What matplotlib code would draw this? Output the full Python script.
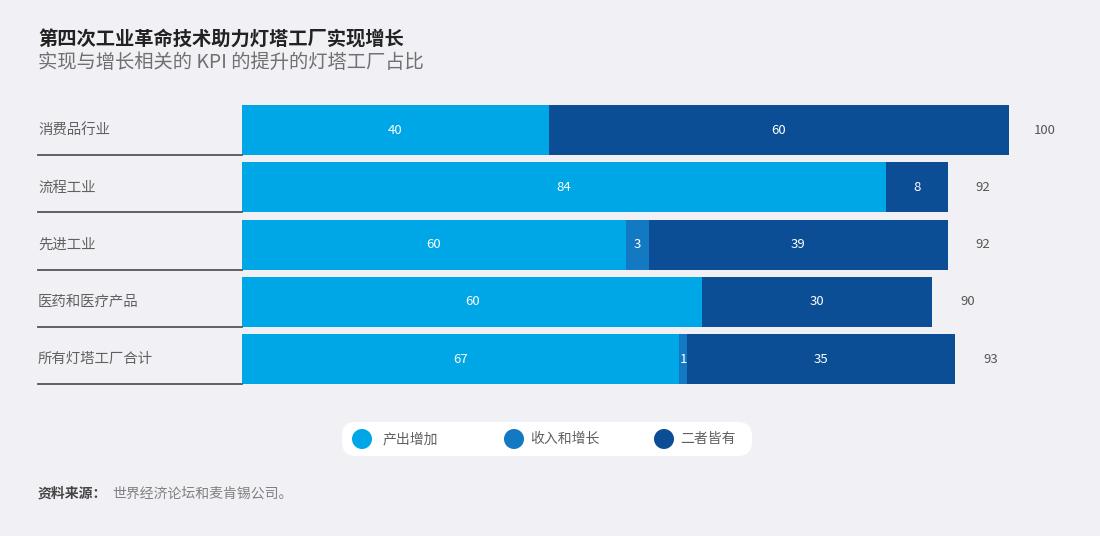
import matplotlib.pyplot as plt
from matplotlib.patches import FancyBboxPatch, Circle

plt.rcParams['font.family'] = ['Noto Sans CJK SC', 'DejaVu Sans']

categories = ['消费品行业', '流程工业', '先进工业', '医药和医疗产品', '所有灯塔工厂合计']
# bar lengths as drawn in the picture
output_up = [40, 84, 50, 60, 57]
revenue_up = [0, 0, 3, 0, 1]
both = [60, 8, 39, 30, 35]
totals = [100, 92, 92, 90, 93]
# numbers printed inside the bars
output_text = ['40', '84', '60', '60', '67']
legend_names = ['产出增加', '收入和增长', '二者皆有']

bg = '#f1f0f4'
c_light = '#00a7e7'
c_mid = '#1479c3'
c_dark = '#0b4e95'
colors = [c_light, c_mid, c_dark]

W, H = 1100, 536
fig = plt.figure(figsize=(11, 5.36), dpi=100, facecolor=bg)

# overlay axes in pixel coordinates for text, legend and source
pax = fig.add_axes([0, 0, 1, 1])
pax.set_xlim(0, W)
pax.set_ylim(H, 0)
pax.axis('off')

# bar axes: x 0..100 -> px 242..1009, rows 57.3 px apart
unit = 57.3
top_px = 130 - unit / 2
ax = fig.add_axes([242 / W, 1 - (top_px + 5 * unit) / H, 767 / W, 5 * unit / H])
ax.set_facecolor('none')
ax.set_xlim(0, 100)
ax.set_ylim(4.5, -0.5)
ax.axis('off')

h = 0.87
for i in range(len(categories)):
    left = 0
    for vals, col in zip([output_up, revenue_up, both], colors):
        v = vals[i]
        if v > 0:
            ax.barh(i, v, left=left, height=h, color=col, edgecolor='none')
        left += v
    ax.text(output_up[i] / 2, i, output_text[i], color='white', ha='center', va='center', fontsize=9.5)
    if revenue_up[i] > 0:
        ax.text(output_up[i] + revenue_up[i] / 2, i, str(revenue_up[i]), color='white',
                ha='center', va='center', fontsize=9.5)
    ax.text(output_up[i] + revenue_up[i] + both[i] / 2, i, str(both[i]), color='white',
            ha='center', va='center', fontsize=9.5)
    ax.text(totals[i] + 4.6, i, str(totals[i]), color='#555555', ha='center', va='center', fontsize=9.5)
    # baseline under the row
    ax.plot([-26.6, 0], [i + h / 2, i + h / 2], color='#555555', lw=1.3, clip_on=False)
    pax.text(38, 130 + i * unit, categories[i], fontsize=10.4, color='#606060',
             ha='left', va='center')

# titles
pax.text(38, 40, '第四次工业革命技术助力灯塔工厂实现增长', fontsize=13.9,
         fontweight='bold', color='#222222', ha='left', va='center')
pax.text(38, 62, '实现与增长相关的 KPI 的提升的灯塔工厂占比', fontsize=13.9,
         color='#707070', ha='left', va='center')

# legend box
box = FancyBboxPatch((342, 422), 410, 34, boxstyle='round,pad=0,rounding_size=14',
                     facecolor='white', edgecolor='none')
pax.add_patch(box)
for cx, tx, name, col in zip([362, 514, 664], [383, 530, 680], legend_names, colors):
    pax.add_patch(Circle((cx, 439), 10, facecolor=col, edgecolor='none'))
    pax.text(tx, 439, name, fontsize=10, color='#606060', ha='left', va='center')

# source
pax.text(38, 494, '资料来源：', fontsize=10, fontweight='bold', color='#444444',
         ha='left', va='center')
pax.text(112, 494, '世界经济论坛和麦肯锡公司。', fontsize=10, color='#808080',
         ha='left', va='center')

fig.savefig('out.png', dpi=100, facecolor=bg)
